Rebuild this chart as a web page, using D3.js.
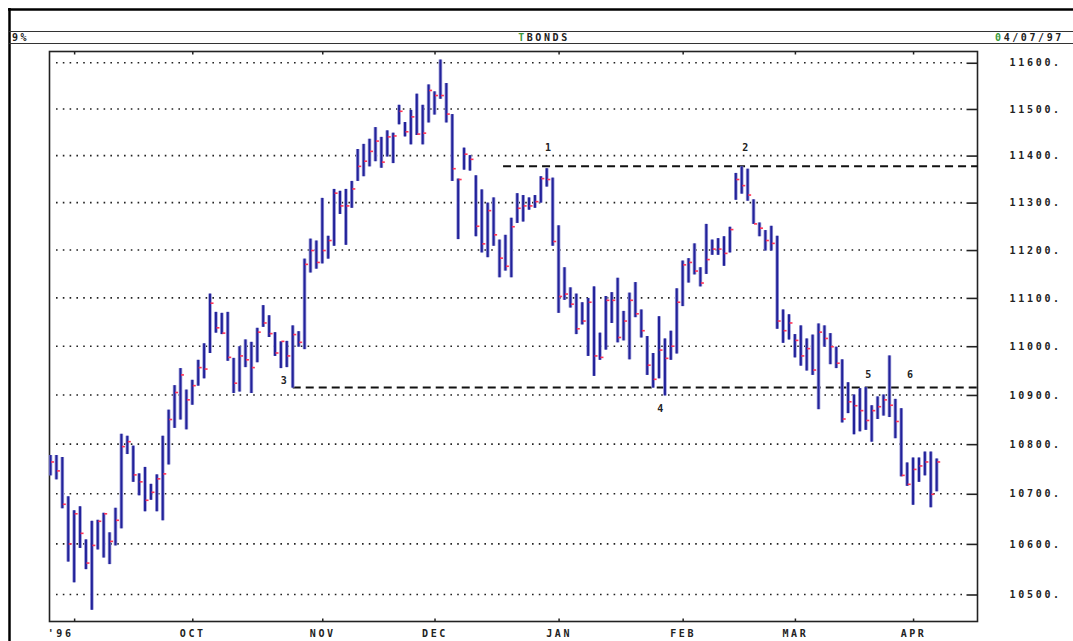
<!DOCTYPE html>
<html>
<head>
<meta charset="utf-8">
<script src="https://cdn.jsdelivr.net/npm/d3@7"></script>
<style>
  body { margin: 0; background: #fff; }
  svg text { font-family: "DejaVu Sans Mono", monospace; font-weight: bold; fill: #222; }
</style>
</head>
<body>
<svg id="chart" width="1073" height="641"></svg>
<script>
// T-bond daily bars, late Aug 1996 .. 04/07/97 (one entry per trading day)
const highs = [10778,10778,10774,10695,10667,10675,10609,10646,10648,10662,10623,10672,10821,10817,10797,10741,10754,10720,10739,10817,
  10870,10920,10955,10911,10931,10972,11006,11109,11071,11069,11071,10976,11000,11014,11009,11038,11085,11064,11029,11010,
  11011,11043,11031,11182,11224,11220,11310,11230,11329,11325,11329,11346,11414,11425,11436,11461,11440,11454,11449,11509,
  11472,11498,11533,11509,11553,11538,11607,11556,11489,11351,11417,11401,11358,11328,11300,11311,11222,11232,11268,11320,
  11316,11311,11316,11356,11373,11353,11252,11164,11122,11109,11091,11100,11124,11028,11104,11112,11142,11073,11111,11133,
  11076,11021,10986,11062,11016,11032,11120,11178,11183,11214,11164,11255,11222,11225,11229,11249,11363,11377,11372,11307,
  11258,11242,11251,11230,11076,11066,11025,11043,11016,11024,11047,11043,11027,10999,10973,10926,10901,10914,10916,10879,
  10897,10901,10981,10892,10873,10763,10773,10773,10785,10785,10771];
const lows = [10737,10729,10671,10565,10524,10592,10550,10470,10589,10573,10560,10597,10631,10780,10724,10697,10665,10688,10665,10647,
  10759,10833,10850,10830,10880,10919,10934,10986,11028,11025,10970,10904,10907,10957,10904,10967,11040,11019,10980,10955,
  10957,10915,10999,10994,11153,11161,11172,11182,11209,11276,11211,11289,11346,11356,11377,11388,11374,11398,11384,11467,
  11441,11424,11444,11424,11471,11488,11522,11471,11346,11223,11370,11368,11229,11195,11185,11209,11143,11157,11143,11257,
  11260,11285,11289,11300,11334,11209,11069,11096,11080,11025,11045,10980,10939,10972,10993,11048,11008,11012,10973,11060,
  11018,10941,10915,10934,10899,10972,10985,11083,11132,11149,11124,11150,11190,11190,11167,11195,11306,11319,11304,11255,
  11229,11199,11199,11036,11007,11014,10977,10960,10950,10941,10871,10999,10963,10955,10844,10863,10820,10826,10829,10805,
  10851,10858,10855,10812,10735,10716,10678,10724,10737,10673,10705];
const closes = [10764,10746,10679,10600,10660,10621,10562,10597,10645,10660,10605,10647,10795,10805,10738,10724,10687,10703,10730,10740,
  10850,10905,10941,10890,10919,10956,10953,11089,11038,11027,10977,10924,10980,10972,10956,11029,11048,11026,10986,11010,
  10980,11024,11008,11170,11199,11174,11199,11220,11320,11293,11293,11329,11377,11388,11409,11431,11386,11440,11442,11495,
  11451,11483,11446,11448,11540,11529,11529,11489,11372,11349,11403,11392,11250,11213,11283,11232,11183,11166,11249,11288,
  11293,11293,11302,11351,11349,11218,11103,11108,11087,11036,11052,11091,10980,10977,11095,11095,11018,11052,11095,11067,
  11032,10961,10932,10992,10975,11000,11091,11169,11174,11156,11131,11180,11202,11202,11193,11243,11349,11336,11316,11255,
  11246,11220,11214,11052,11032,11048,11012,10980,10995,10951,11029,11016,10999,10965,10851,10886,10878,10868,10848,10868,
  10876,10890,10879,10846,10737,10719,10749,10756,10764,10699,10764];

const monthLabels = ["'96", "OCT", "NOV", "DEC", "JAN", "FEB", "MAR", "APR"];
const monthStarts = [4, 24, 46, 65, 86, 107, 126, 146];   // bar index of first session
const priceTicks = [10500, 10600, 10700, 10800, 10900, 11000, 11100, 11200, 11300, 11400, 11500, 11600];

// horizontal reference levels (neckline / top line) and the bar index they start at
const levels = [{ value: 11377, from: 76.6 }, { value: 10915, from: 41 }];
// numbered points: label, bar index, price where the label sits
const points = [
  { label: "1", i: 84.2, v: 11409 },
  { label: "2", i: 117.6, v: 11409 },
  { label: "3", i: 39.5, v: 10923 },
  { label: "4", i: 103.2, v: 10866 },
  { label: "5", i: 138.4, v: 10935 },
  { label: "6", i: 145.5, v: 10935 }
];

const svg = d3.select("#chart");
const W = 1073, H = 641;
const plot = { left: 49.5, right: 977.5, top: 51.5, bottom: 621.5 };

const x = d3.scaleLinear().domain([0, highs.length - 1]).range([50.5, 936.7]);
const y = d3.scaleLog().domain([10447, 11624.5]).range([plot.bottom, plot.top]);

// outer frame and header band
svg.append("line").attr("x1", 8).attr("x2", W).attr("y1", 9.5).attr("y2", 9.5)
  .attr("stroke", "#000").attr("stroke-width", 2.5);
svg.append("line").attr("x1", 9.5).attr("x2", 9.5).attr("y1", 8).attr("y2", H)
  .attr("stroke", "#000").attr("stroke-width", 2.5);
[31.5, 43.5].forEach(yy => {
  svg.append("line").attr("x1", 9).attr("x2", W).attr("y1", yy).attr("y2", yy)
    .attr("stroke", "#333").attr("stroke-width", 1.2);
});
const head = svg.append("g").attr("font-size", 10).attr("letter-spacing", 2.6);
head.append("text").attr("x", 12).attr("y", 41).text("9%");
const t1 = head.append("text").attr("x", 544).attr("y", 41).attr("text-anchor", "middle");
t1.append("tspan").style("fill", "#3a9a3a").text("T");
t1.append("tspan").text("BONDS");
const t2 = head.append("text").attr("x", 995).attr("y", 41);
t2.append("tspan").style("fill", "#3a9a3a").text("0");
t2.append("tspan").text("4/07/97");

// dotted price grid
svg.append("g").selectAll("line").data(priceTicks).join("line")
  .attr("x1", 56).attr("x2", 966)
  .attr("y1", d => y(d)).attr("y2", d => y(d))
  .attr("stroke", "#222").attr("stroke-width", 1.6)
  .attr("stroke-dasharray", "1.6 5.2");

// plot frame
svg.append("rect")
  .attr("x", plot.left).attr("y", plot.top)
  .attr("width", plot.right - plot.left).attr("height", plot.bottom - plot.top)
  .attr("fill", "none").attr("stroke", "#222").attr("stroke-width", 1.6);

// right axis: inward ticks + labels
const inTicks = svg.append("g").attr("transform", `translate(${plot.right},0)`)
  .call(d3.axisLeft(y).tickValues(priceTicks).tickSize(11).tickFormat(""));
inTicks.select(".domain").remove();
inTicks.selectAll("line").attr("stroke", "#222").attr("stroke-width", 1.6);

const yAxis = svg.append("g").attr("transform", `translate(${plot.right},0)`)
  .call(d3.axisRight(y).tickValues(priceTicks).tickSize(0).tickPadding(32).tickFormat(d => d + "."));
yAxis.select(".domain").remove();
yAxis.selectAll("text").attr("font-size", 10).attr("letter-spacing", 2.7)
  .attr("font-family", "DejaVu Sans Mono").attr("font-weight", "bold").attr("fill", "#222");

// month axes (bottom with labels, top ticks only)
const xAxis = svg.append("g").attr("transform", `translate(0,${plot.bottom})`)
  .call(d3.axisBottom(x).tickValues(monthStarts).tickSize(-3).tickPadding(8)
    .tickFormat((d, i) => monthLabels[i]));
xAxis.select(".domain").remove();
xAxis.selectAll("line").attr("stroke", "#222").attr("stroke-width", 1.5);
xAxis.selectAll("text").attr("font-size", 10).attr("letter-spacing", 2.6)
  .attr("font-family", "DejaVu Sans Mono").attr("font-weight", "bold").attr("fill", "#222");
xAxis.selectAll("text").filter((d, i) => i === 0).attr("dx", -14);

const xTop = svg.append("g").attr("transform", `translate(0,${plot.top})`)
  .call(d3.axisTop(x).tickValues(monthStarts).tickSize(-3).tickFormat(""));
xTop.select(".domain").remove();
xTop.selectAll("line").attr("stroke", "#222").attr("stroke-width", 1.5);

// reference levels
svg.append("g").selectAll("line").data(levels).join("line")
  .attr("x1", d => x(d.from)).attr("x2", plot.right)
  .attr("y1", d => y(d.value)).attr("y2", d => y(d.value))
  .attr("stroke", "#111").attr("stroke-width", 2)
  .attr("stroke-dasharray", "8 5");

// price bars
const idx = d3.range(highs.length);
const bars = svg.append("g");
bars.selectAll("line.halo").data(idx).join("line").attr("class", "halo")
  .attr("x1", i => x(i)).attr("x2", i => x(i))
  .attr("y1", i => y(highs[i])).attr("y2", i => y(lows[i]))
  .attr("stroke", "#9c9cd8").attr("stroke-width", 3.6);
bars.selectAll("line.bar").data(idx).join("line").attr("class", "bar")
  .attr("x1", i => x(i)).attr("x2", i => x(i))
  .attr("y1", i => y(highs[i])).attr("y2", i => y(lows[i]))
  .attr("stroke", "#22229a").attr("stroke-width", 2);
bars.selectAll("line.close").data(idx).join("line").attr("class", "close")
  .attr("x1", i => x(i) + 0.5).attr("x2", i => x(i) + 3.5)
  .attr("y1", i => y(closes[i])).attr("y2", i => y(closes[i]))
  .attr("stroke", "#ff3355").attr("stroke-width", 1.6);

// numbered points
svg.append("g").selectAll("text").data(points).join("text")
  .attr("x", d => x(d.i)).attr("y", d => y(d.v))
  .attr("text-anchor", "middle").attr("font-size", 10)
  .text(d => d.label);
</script>
</body>
</html>
